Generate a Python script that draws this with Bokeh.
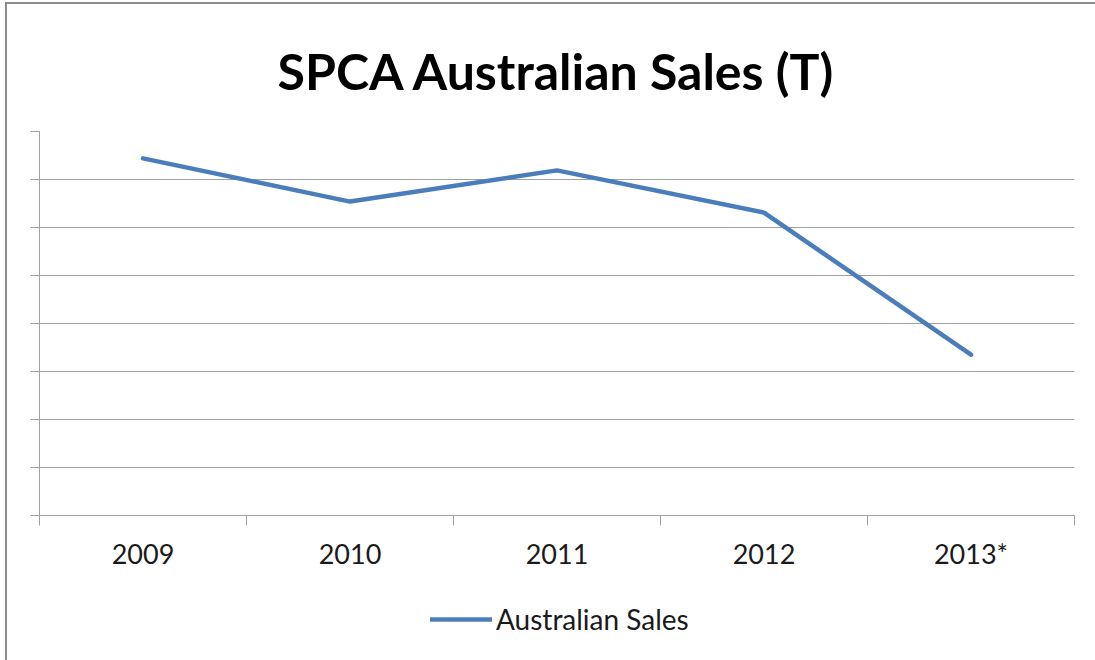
from bokeh.plotting import figure
from bokeh.models import FixedTicker, Legend, LegendItem, ColumnDataSource, Spacer
from bokeh.layouts import column, row
from bokeh.embed import file_html
from bokeh.resources import INLINE

years = ["2009", "2010", "2011", "2012", "2013*"]
sales = [7.44, 6.54, 7.19, 6.31, 3.35]
y_ticks = [0, 1, 2, 3, 4, 5, 6, 7, 8]
series_name = "Australian Sales"

xpos = [i + 0.5 for i in range(len(years))]
src = ColumnDataSource(dict(x=xpos, y=sales))

FONT = "Lato"
GRID = "#a0a0a0"
LINE = "#4a7ebb"
BORDER = "#8c8c8c"

p = figure(frame_width=1035, frame_height=384, output_backend="svg", toolbar_location=None,
           x_range=(0, len(years)), y_range=(0, 8),
           min_border_left=32, min_border_right=21, min_border_top=127, min_border_bottom=70)
p.outline_line_color = None
p.background_fill_color = "white"
p.border_fill_color = "white"

p.title.text = "SPCA Australian Sales (T)"
p.title.align = "center"
p.title.text_font = FONT
p.title.text_font_style = "bold"
p.title.text_font_size = "50px"
p.title.text_color = "black"
p.title.standoff = 61

r = p.line("x", "y", source=src, line_color=LINE, line_width=4.5,
           line_cap="round", line_join="round")

# x axis: labels at centers, ticks at category boundaries
xa = p.xaxis[0]
xa.ticker = FixedTicker(ticks=xpos, minor_ticks=list(range(len(years) + 1)))
xa.major_label_overrides = {x: y for x, y in zip(xpos, years)}
xa.major_tick_out = 0
xa.major_tick_in = 0
xa.minor_tick_out = 10
xa.minor_tick_in = 0
xa.minor_tick_line_color = GRID
xa.axis_line_color = GRID
xa.major_label_text_font = FONT
xa.major_label_text_font_size = "27px"
xa.major_label_text_color = "#1a1a1a"
xa.major_label_standoff = 11
p.xgrid.visible = False

ya = p.yaxis[0]
ya.ticker = FixedTicker(ticks=y_ticks)
ya.major_label_text_font_size = "0px"
ya.major_label_overrides = {t: "" for t in y_ticks}
ya.major_tick_out = 9
ya.major_tick_in = 0
ya.minor_tick_out = 0
ya.minor_tick_in = 0
ya.major_tick_line_color = GRID
ya.axis_line_color = GRID
p.ygrid.grid_line_color = GRID
p.ygrid.grid_line_width = 1

# legend strip below the chart (series drawn out of its view, only the legend shows)
p2 = figure(width=1088, height=75, output_backend="svg", toolbar_location=None,
            x_range=(0, len(years)), y_range=(-20, -19), x_axis_type=None, y_axis_type=None,
            min_border=0)
p2.outline_line_color = None
p2.border_fill_color = "white"
r2 = p2.line("x", "y", source=src, line_color=LINE, line_width=4.5, line_cap="round")
legend = Legend(items=[LegendItem(label=series_name, renderers=[r2])],
                location=(391, 24), orientation="horizontal",
                glyph_width=62, glyph_height=20, label_standoff=4, padding=0, margin=0,
                border_line_color=None, background_fill_alpha=0,
                label_text_font=FONT, label_text_font_size="28px", label_text_color="#1a1a1a")
p2.add_layout(legend)

top_edge = Spacer(width=1090, height=2, margin=(2, 0, 0, 5),
                  styles={"background-color": BORDER})
left_edge = Spacer(width=2, height=656, margin=(0, 0, 0, 5),
                   styles={"background-color": BORDER})

layout = column(top_edge, row(left_edge, column(p, p2)))

open("out.html", "w").write(file_html(layout, INLINE))
